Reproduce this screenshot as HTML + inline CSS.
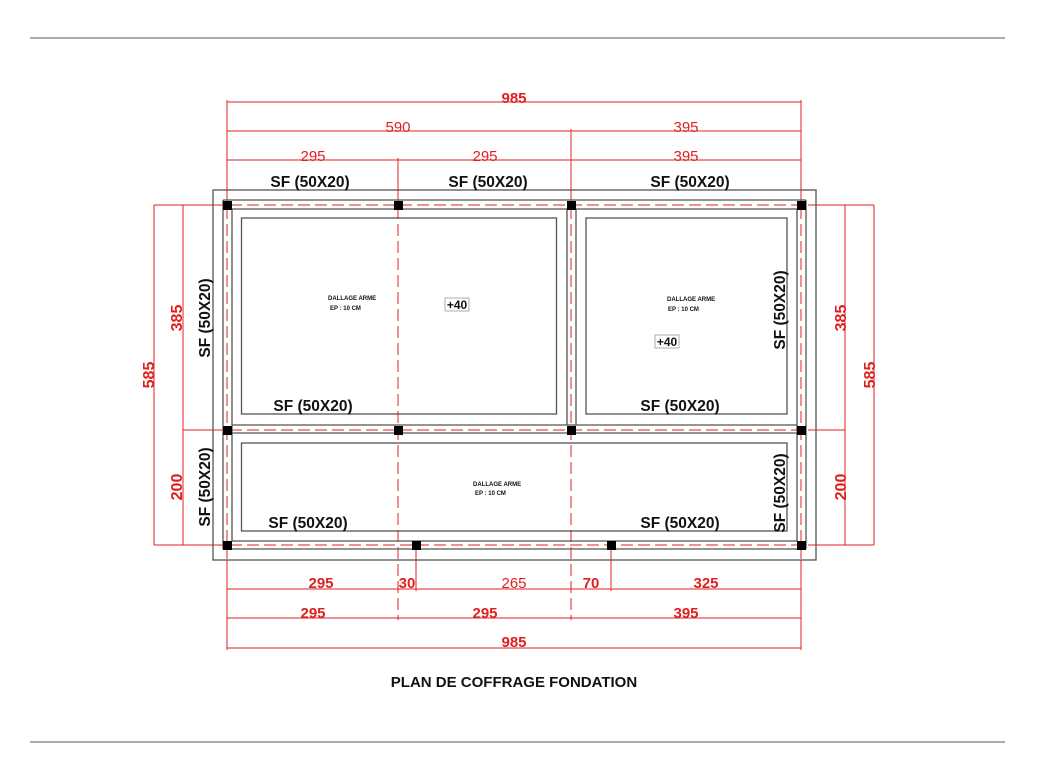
<!DOCTYPE html>
<html><head><style>
html,body{margin:0;padding:0;background:#fff;}
svg{display:block;}
text{font-family:"Liberation Sans",sans-serif;}
</style></head><body>
<svg width="1040" height="778" viewBox="0 0 1040 778" xmlns="http://www.w3.org/2000/svg">
<line x1="30" y1="38" x2="1005" y2="38" stroke="#aaa" stroke-width="2"/>
<line x1="30" y1="742" x2="1005" y2="742" stroke="#aaa" stroke-width="2"/>

<g stroke="#e02020" stroke-width="1" fill="none">
<line x1="227" y1="102" x2="801" y2="102"/>
<line x1="227" y1="131" x2="801" y2="131"/>
<line x1="227" y1="160" x2="801" y2="160"/>
<line x1="227" y1="100" x2="227" y2="190"/>
<line x1="801" y1="100" x2="801" y2="190"/>
<line x1="571" y1="129" x2="571" y2="190"/>
<line x1="398" y1="158" x2="398" y2="190"/>
<line x1="227" y1="589" x2="801" y2="589"/>
<line x1="227" y1="618" x2="801" y2="618"/>
<line x1="227" y1="648" x2="801" y2="648"/>
<line x1="227" y1="560" x2="227" y2="650"/>
<line x1="801" y1="560" x2="801" y2="650"/>
<line x1="416" y1="549" x2="416" y2="591"/>
<line x1="611" y1="549" x2="611" y2="591"/>
<line x1="154" y1="205" x2="154" y2="545"/>
<line x1="183" y1="205" x2="183" y2="545"/>
<line x1="154" y1="205" x2="213" y2="205"/>
<line x1="154" y1="545" x2="213" y2="545"/>
<line x1="183" y1="430" x2="213" y2="430"/>
<line x1="845" y1="205" x2="845" y2="545"/>
<line x1="874" y1="205" x2="874" y2="545"/>
<line x1="816" y1="205" x2="874" y2="205"/>
<line x1="816" y1="545" x2="874" y2="545"/>
<line x1="816" y1="430" x2="845" y2="430"/>
</g>
<g stroke="#e02020" stroke-width="1" stroke-dasharray="12,5" fill="none">
<line x1="227" y1="190" x2="227" y2="600"/>
<line x1="398" y1="190" x2="398" y2="620"/>
<line x1="571" y1="190" x2="571" y2="620"/>
<line x1="801" y1="190" x2="801" y2="600"/>
<line x1="213" y1="205" x2="816" y2="205"/>
<line x1="213" y1="430" x2="816" y2="430"/>
<line x1="213" y1="545" x2="816" y2="545"/>
</g>

<g stroke="#555" stroke-width="1.3" fill="none">
<rect x="213" y="190" width="603" height="370"/>
<line x1="223" y1="200" x2="806" y2="200"/>
<line x1="232" y1="209" x2="797" y2="209"/>
<line x1="223" y1="200" x2="223" y2="549"/>
<line x1="232" y1="209" x2="232" y2="541"/>
<line x1="806" y1="200" x2="806" y2="549"/>
<line x1="797" y1="209" x2="797" y2="541"/>
<line x1="223" y1="549" x2="806" y2="549"/>
<line x1="232" y1="541" x2="797" y2="541"/>
<line x1="232" y1="425" x2="797" y2="425"/>
<line x1="232" y1="433" x2="797" y2="433"/>
<line x1="567" y1="209" x2="567" y2="425"/>
<line x1="576" y1="209" x2="576" y2="425"/>
<rect x="241.5" y="218" width="315" height="196"/>
<rect x="586" y="218" width="201" height="196"/>
<rect x="241.5" y="443" width="545.5" height="88"/>
</g>

<g fill="#000">
<rect x="223" y="201" width="9" height="9"/>
<rect x="394" y="201" width="9" height="9"/>
<rect x="567" y="201" width="9" height="9"/>
<rect x="797" y="201" width="9" height="9"/>
<rect x="223" y="426" width="9" height="9"/>
<rect x="394" y="426" width="9" height="9"/>
<rect x="567" y="426" width="9" height="9"/>
<rect x="797" y="426" width="9" height="9"/>
<rect x="223" y="541" width="9" height="9"/>
<rect x="412" y="541" width="9" height="9"/>
<rect x="607" y="541" width="9" height="9"/>
<rect x="797" y="541" width="9" height="9"/>
</g>

<g fill="#e02020" font-size="15" text-anchor="middle">
<text x="514" y="103" font-weight="bold">985</text>
<text x="398" y="132">590</text>
<text x="686" y="132">395</text>
<text x="313" y="161">295</text>
<text x="485" y="161">295</text>
<text x="686" y="161">395</text>
<text x="321" y="588" font-weight="bold">295</text>
<text x="407" y="588" font-weight="bold">30</text>
<text x="514" y="588">265</text>
<text x="591" y="588" font-weight="bold">70</text>
<text x="706" y="588" font-weight="bold">325</text>
<text x="313" y="618" font-weight="bold">295</text>
<text x="485" y="618" font-weight="bold">295</text>
<text x="686" y="618" font-weight="bold">395</text>
<text x="514" y="647" font-weight="bold">985</text>
</g>
<g fill="#e02020" font-size="16" text-anchor="middle" font-weight="bold">
<text transform="translate(154,375) rotate(-90)">585</text>
<text transform="translate(182,318) rotate(-90)">385</text>
<text transform="translate(182,487) rotate(-90)">200</text>
<text transform="translate(875,375) rotate(-90)">585</text>
<text transform="translate(846,318) rotate(-90)">385</text>
<text transform="translate(846,487) rotate(-90)">200</text>
</g>

<g fill="#111" font-size="15.5" font-weight="bold" text-anchor="middle">
<text x="310" y="187">SF (50X20)</text>
<text x="488" y="187">SF (50X20)</text>
<text x="690" y="187">SF (50X20)</text>
<text x="313" y="411">SF (50X20)</text>
<text x="680" y="411">SF (50X20)</text>
<text x="308" y="528">SF (50X20)</text>
<text x="680" y="528">SF (50X20)</text>
<text transform="translate(210,318) rotate(-90)">SF (50X20)</text>
<text transform="translate(210,487) rotate(-90)">SF (50X20)</text>
<text transform="translate(785,310) rotate(-90)">SF (50X20)</text>
<text transform="translate(785,493) rotate(-90)">SF (50X20)</text>
</g>
<g fill="#111" font-size="6" font-weight="bold">
<text x="328" y="300">DALLAGE ARME</text><text x="330" y="310">EP : 10 CM</text>
<text x="667" y="301">DALLAGE ARME</text><text x="668" y="311">EP : 10 CM</text>
<text x="473" y="486">DALLAGE ARME</text><text x="475" y="495">EP : 10 CM</text>
</g>
<rect x="445" y="298" width="24" height="13" fill="none" stroke="#999" stroke-width="0.8"/>
<text x="457" y="309" font-size="12" font-weight="bold" text-anchor="middle" fill="#111">+40</text>
<rect x="655" y="335" width="24" height="13" fill="none" stroke="#999" stroke-width="0.8"/>
<text x="667" y="346" font-size="12" font-weight="bold" text-anchor="middle" fill="#111">+40</text>

<text x="514" y="687" font-size="15" font-weight="bold" text-anchor="middle" fill="#111">PLAN DE COFFRAGE FONDATION</text>
</svg>
</body></html>
